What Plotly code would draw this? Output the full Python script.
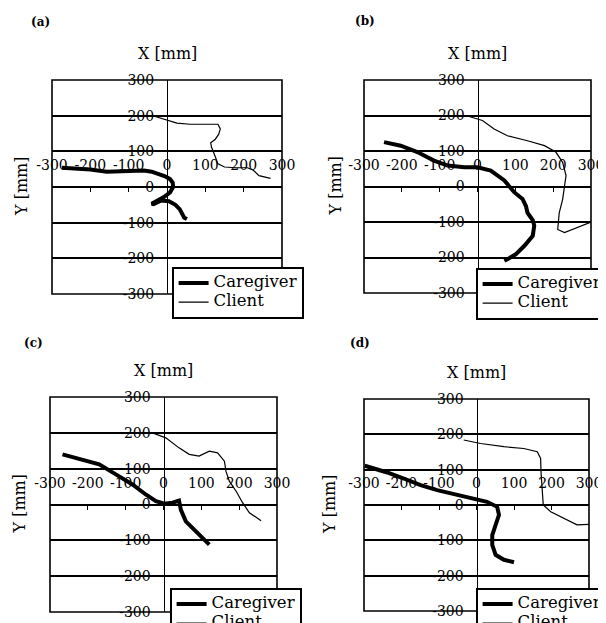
import plotly.graph_objects as go

# ---------------- data (mm) ----------------
a_caregiver_x = [-274, -240, -200, -157, -120, -87, -60, -40, -22, -5, 8, 15, 16, 8, -8, -25, -40, -35, -15, 5, 22, 33, 40, 45, 52]
a_caregiver_y = [54, 52, 49, 43, 44, 47, 46, 43, 37, 30, 22, 12, 0, -15, -28, -37, -47, -48, -38, -40, -50, -62, -78, -86, -90]
a_client_x = [-35, 0, 26, 60, 105, 133, 139, 135, 126, 114, 116, 122, 127, 132, 150, 180, 210, 225, 240, 270]
a_client_y = [199, 188, 179, 176, 177, 176, 163, 148, 134, 124, 112, 98, 82, 66, 56, 54, 54, 47, 32, 24]

b_caregiver_x = [-247, -203, -159, -115, -79, -35, 0, 35, 71, 97, 119, 128, 132, 146, 150, 146, 124, 101, 79, 71]
b_caregiver_y = [125, 115, 97, 73, 59, 54, 54, 45, 17, -16, -35, -55, -74, -95, -110, -139, -167, -191, -205, -209]
b_client_x = [-31, 13, 44, 79, 132, 177, 207, 225, 234, 230, 225, 216, 212, 212, 230, 265, 300]
b_client_y = [200, 186, 162, 143, 129, 115, 97, 68, 31, -2, -36, -74, -110, -121, -130, -116, -100]

c_caregiver_x = [-267, -214, -170, -126, -82, -47, -20, 2, 24, 41, 44, 46, 59, 86, 121]
c_caregiver_y = [140, 126, 112, 84, 56, 28, 9, 2, 5, 11, 0, -15, -47, -74, -112]
c_client_x = [-29, 6, 41, 68, 94, 121, 143, 161, 165, 174, 192, 209, 227, 258]
c_client_y = [200, 186, 158, 140, 135, 149, 144, 121, 93, 65, 37, 5, -23, -45]

d_caregiver_x = [-298, -238, -194, -149, -105, -60, -16, 28, 55, 60, 51, 42, 42, 51, 73, 100]
d_caregiver_y = [111, 92, 75, 56, 42, 30, 19, 9, -5, -28, -56, -85, -113, -141, -155, -162]
d_client_x = [-34, 11, 73, 126, 162, 171, 172, 175, 178, 198, 233, 268, 300]
d_client_y = [184, 174, 165, 160, 151, 132, 94, 47, 0, -19, -38, -56, -55]

panel_labels = ["(a)", "(b)", "(c)", "(d)"]
series_names = ["Caregiver", "Client"]
tick_vals = [-300, -200, -100, 0, 100, 200, 300]
x_tick_text = ["-300", "-200", "-100", "0", "100", "200", "300"]
y_tick_text = ["-300", "-200", "-100", "0", "100", "200", "300"]

# ---------------- layout geometry (px, window coordinates) ----------------
W, H = 606, 623
OFF = 8  # page body margin
FONT = "DejaVu Serif"
# left, right, top, bottom of each plot area
geo = [(52, 282, 80, 294), (364, 591, 80, 293), (50, 277, 397, 612), (364, 589, 399, 611)]
label_pos = [(40, 22), (365, 21), (33, 343), (360, 343)]
ytitle_x = [22, 335, 19, 330]
legend_pos = [(172, 267), (476, 268), (170, 588), (476, 588)]

data = [
    (a_caregiver_x, a_caregiver_y, a_client_x, a_client_y),
    (b_caregiver_x, b_caregiver_y, b_client_x, b_client_y),
    (c_caregiver_x, c_caregiver_y, c_client_x, c_client_y),
    (d_caregiver_x, d_caregiver_y, d_client_x, d_client_y),
]

def fx(px):
    return (px - OFF) / W

def fy(py):
    return 1 - (py - OFF) / H

fig = go.Figure()
layout = dict(
    width=W, height=H, margin=dict(l=0, r=0, t=0, b=0, autoexpand=False),
    paper_bgcolor="white", plot_bgcolor="white",
    font=dict(family=FONT, color="black", size=13),
    shapes=[], annotations=[],
)

for i, (cgx, cgy, clx, cly) in enumerate(data):
    n = "" if i == 0 else str(i + 1)
    xa, ya = "x" + n, "y" + n
    leg = "legend" + n
    fig.add_trace(go.Scatter(x=cgx, y=cgy, mode="lines",
                             name="<span style='font-size:16.5px'>" + series_names[0] + "</span>",
                             line=dict(color="black", width=4), xaxis=xa, yaxis=ya, legend=leg))
    fig.add_trace(go.Scatter(x=clx, y=cly, mode="lines",
                             name="<span style='font-size:16.5px'>" + series_names[1] + "</span>",
                             line=dict(color="black", width=1.2), xaxis=xa, yaxis=ya, legend=leg))
    l, r, t, b = geo[i]
    xdom = [fx(l), fx(r)]
    ydom = [fy(b), fy(t)]
    xmid = (xdom[0] + xdom[1]) / 2
    ymid = (ydom[0] + ydom[1]) / 2
    layout["xaxis" + n] = dict(
        domain=xdom, range=[-300, 300], anchor="free", position=ymid, side="top",
        tickmode="array", tickvals=tick_vals, ticktext=x_tick_text,
        ticks="inside", ticklen=4, tickwidth=1, tickcolor="black",
        ticklabelstandoff=14, showgrid=False, zeroline=False, showline=False,
        tickfont=dict(family=FONT, size=14, color="black"), fixedrange=True,
    )
    layout["yaxis" + n] = dict(
        domain=ydom, range=[-300, 300], anchor="free", position=xmid,
        tickmode="array", tickvals=tick_vals, ticktext=y_tick_text,
        ticks="", ticklabelstandoff=10,
        showgrid=True, gridcolor="black", gridwidth=1.8,
        zeroline=False, showline=True, linecolor="black", linewidth=1,
        tickfont=dict(family=FONT, size=14, color="black"), fixedrange=True,
    )
    layout["shapes"].append(dict(type="rect", xref=xa + " domain", yref=ya + " domain",
                                 x0=0, x1=1, y0=0, y1=1, line=dict(color="black", width=1.6),
                                 layer="above"))
    lx, ly = label_pos[i]
    layout["annotations"].append(dict(text="<b>" + panel_labels[i] + "</b>", x=fx(lx), y=fy(ly),
                                      xref="paper", yref="paper", showarrow=False,
                                      xanchor="center", yanchor="middle",
                                      font=dict(family=FONT, size=12, color="black")))
    layout["annotations"].append(dict(text="X [mm]", x=xmid, y=fy(t - 27),
                                      xref="paper", yref="paper", showarrow=False,
                                      xanchor="center", yanchor="middle",
                                      font=dict(family=FONT, size=16, color="black")))
    layout["annotations"].append(dict(text="Y [mm]", x=fx(ytitle_x[i]), y=ymid, textangle=-90,
                                      xref="paper", yref="paper", showarrow=False,
                                      xanchor="center", yanchor="middle",
                                      font=dict(family=FONT, size=16, color="black")))
    gx, gy = legend_pos[i]
    layout[leg] = dict(
        x=fx(gx), y=fy(gy), xanchor="left", yanchor="top",
        bgcolor="white", bordercolor="black", borderwidth=1.6,
        font=dict(family=FONT, size=11, color="black"),
        itemwidth=30, tracegroupgap=0, traceorder="normal",
    )

fig.update_layout(**layout)
fig.write_html("out.html")
